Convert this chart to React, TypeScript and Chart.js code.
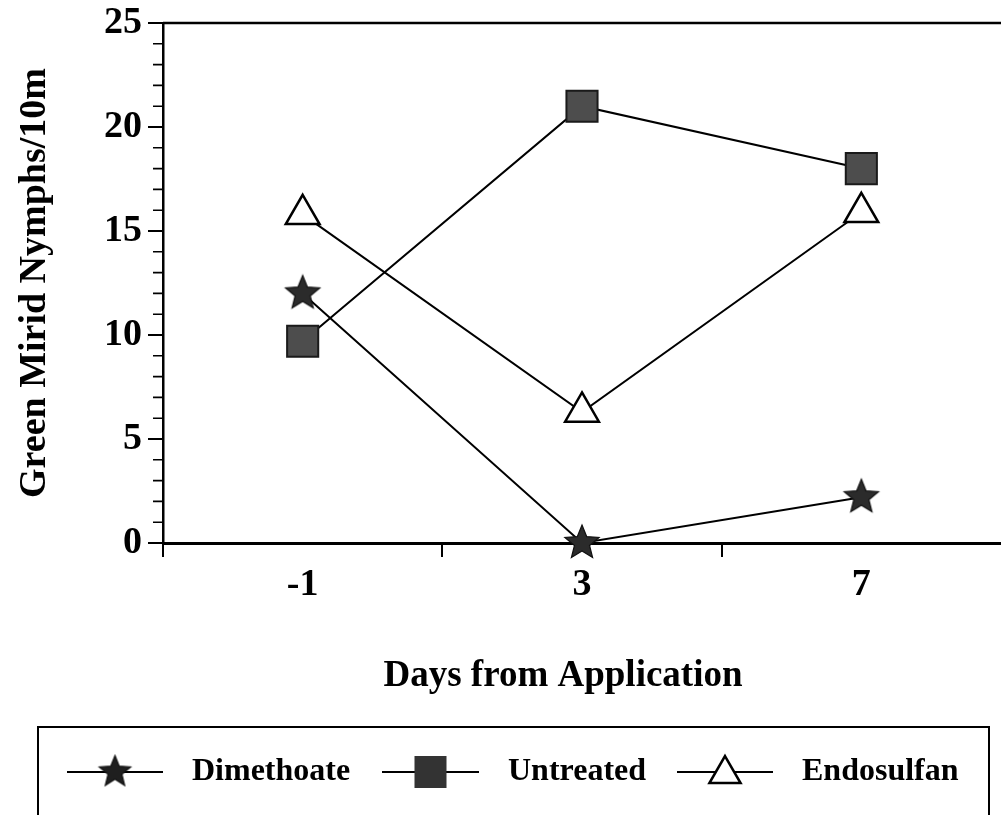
import React, { useEffect, useRef } from 'react';
import { Chart, registerables } from 'chart.js';

Chart.register(...registerables);

// ---- data ----
const days = ['-1', '3', '7'];
const dimethoate = [12, 0, 2.2];
const untreated = [9.7, 21, 18];
const endosulfan = [15.8, 6.3, 15.9];
const yTickValues = [0, 5, 10, 15, 20, 25];
const yMinorValues = [1, 2, 3, 4, 6, 7, 8, 9, 11, 12, 13, 14, 16, 17, 18, 19, 21, 22, 23, 24];
const seriesNames = ['Dimethoate', 'Untreated', 'Endosulfan'];
const xTitle = 'Days from Application';
const yTitle = 'Green Mirid Nymphs/10m';

const SERIF = '"Liberation Serif", "Times New Roman", serif';

function makeStar(R: number, fill: string): HTMLCanvasElement {
  const size = Math.ceil(R * 2 + 4);
  const c = document.createElement('canvas');
  c.width = size;
  c.height = size;
  const ctx = c.getContext('2d')!;
  const cx = size / 2;
  const cy = size / 2;
  const r = R * 0.44;
  ctx.beginPath();
  for (let i = 0; i < 10; i++) {
    const rad = i % 2 === 0 ? R : r;
    const a = -Math.PI / 2 + (i * Math.PI) / 5;
    const px = cx + rad * Math.cos(a);
    const py = cy + rad * Math.sin(a);
    if (i === 0) ctx.moveTo(px, py);
    else ctx.lineTo(px, py);
  }
  ctx.closePath();
  ctx.fillStyle = fill;
  ctx.fill();
  ctx.strokeStyle = '#111';
  ctx.lineWidth = 1.2;
  ctx.stroke();
  return c;
}

export default function App() {
  const ref = useRef<HTMLCanvasElement | null>(null);

  useEffect(() => {
    const canvas = ref.current;
    if (!canvas) return;
    const star = makeStar(18, '#2b2b2b');
    const legendStar = makeStar(16.5, '#1f1f1f');

    const framePlugin = {
      id: 'frameAndMinor',
      beforeDatasetsDraw(chart: any) {
        const { ctx, chartArea } = chart;
        const ys = chart.scales.y;
        ctx.save();
        ctx.strokeStyle = '#000';
        ctx.lineWidth = 2.5;
        ctx.beginPath();
        ctx.moveTo(chartArea.left, chartArea.top);
        ctx.lineTo(chartArea.right, chartArea.top);
        ctx.stroke();
        ctx.lineWidth = 1.6;
        ctx.beginPath();
        yMinorValues.forEach((v) => {
          const py = ys.getPixelForValue(v);
          ctx.moveTo(chartArea.left - 10, py);
          ctx.lineTo(chartArea.left, py);
        });
        ctx.stroke();
        ctx.restore();
      },
      afterDraw(chart: any) {
        const { ctx } = chart;
        ctx.save();
        // x-axis title
        ctx.fillStyle = '#000';
        ctx.font = `bold 37px ${SERIF}`;
        ctx.textAlign = 'center';
        ctx.textBaseline = 'middle';
        ctx.fillText(xTitle, 563, 676);

        // legend box (bottom edge runs off the page)
        ctx.strokeStyle = '#000';
        ctx.lineWidth = 2;
        ctx.beginPath();
        ctx.moveTo(38, 840);
        ctx.lineTo(38, 727);
        ctx.lineTo(989, 727);
        ctx.lineTo(989, 840);
        ctx.stroke();

        const items = [
          { x0: 67, x1: 163, tx: 192 },
          { x0: 382, x1: 479, tx: 508 },
          { x0: 677, x1: 773, tx: 802 },
        ];
        const ly = 772;
        ctx.font = `bold 32px ${SERIF}`;
        ctx.textAlign = 'left';
        ctx.textBaseline = 'alphabetic';
        items.forEach((it, i) => {
          ctx.strokeStyle = '#000';
          ctx.lineWidth = 2;
          ctx.beginPath();
          ctx.moveTo(it.x0, ly);
          ctx.lineTo(it.x1, ly);
          ctx.stroke();
          const cx = (it.x0 + it.x1) / 2;
          if (i === 0) {
            ctx.drawImage(legendStar, cx - legendStar.width / 2, ly - legendStar.height / 2);
          } else if (i === 1) {
            ctx.fillStyle = '#333';
            ctx.fillRect(cx - 16, ly - 16, 32, 32);
          } else {
            const r = 18;
            ctx.beginPath();
            for (let k = 0; k < 3; k++) {
              const a = (k * 2 * Math.PI) / 3;
              const px = cx + Math.sin(a) * r;
              const py = ly + 2 - Math.cos(a) * r;
              if (k === 0) ctx.moveTo(px, py);
              else ctx.lineTo(px, py);
            }
            ctx.closePath();
            ctx.fillStyle = '#fff';
            ctx.fill();
            ctx.lineWidth = 2.5;
            ctx.stroke();
          }
          ctx.fillStyle = '#000';
          ctx.fillText(seriesNames[i], it.tx, 780);
        });
        ctx.restore();
      },
    };

    const chart = new Chart(canvas, {
      type: 'line',
      data: {
        labels: days,
        datasets: [
          {
            label: seriesNames[0],
            data: dimethoate,
            borderColor: '#000',
            borderWidth: 2,
            pointStyle: star as any,
            pointRadius: 18,
            clip: false as any,
          },
          {
            label: seriesNames[1],
            data: untreated,
            borderColor: '#000',
            borderWidth: 2,
            pointStyle: 'rect',
            pointRadius: 22,
            pointBackgroundColor: '#4d4d4d',
            pointBorderColor: '#1a1a1a',
            pointBorderWidth: 2,
            clip: false as any,
          },
          {
            label: seriesNames[2],
            data: endosulfan,
            borderColor: '#000',
            borderWidth: 2,
            pointStyle: 'triangle',
            pointRadius: 19.5,
            pointBackgroundColor: '#fff',
            pointBorderColor: '#000',
            pointBorderWidth: 2.5,
            clip: false as any,
          },
        ],
      },
      options: {
        responsive: false,
        animation: false,
        devicePixelRatio: 1,
        layout: { autoPadding: false, padding: { top: 23, left: 0, right: 0, bottom: 0 } },
        plugins: {
          legend: { display: false },
          tooltip: { enabled: false },
        },
        scales: {
          x: {
            type: 'category',
            offset: true,
            ticks: {
              color: '#000',
              font: { family: SERIF, size: 38, weight: 'bold' },
              padding: 5,
              maxRotation: 0,
            },
            grid: {
              display: true,
              offset: true,
              drawOnChartArea: false,
              drawTicks: true,
              tickLength: 14,
              color: (c: any) => (c.tick && c.index < days.length ? '#000' : 'rgba(0,0,0,0)'),
              lineWidth: 2,
            },
            border: { display: true, color: '#000', width: 3 },
            afterFit: (s: any) => {
              s.height = 272;
              s.paddingLeft = 0;
              s.paddingRight = 0;
            },
          },
          y: {
            min: 0,
            max: 25,
            afterBuildTicks: (s: any) => {
              s.ticks = yTickValues.map((v) => ({ value: v }));
            },
            ticks: {
              color: '#000',
              font: { family: SERIF, size: 38, weight: 'bold' },
              padding: 6,
            },
            grid: {
              display: true,
              drawOnChartArea: false,
              drawTicks: true,
              tickLength: 15,
              color: '#000',
              lineWidth: 2,
            },
            border: { display: true, color: '#000', width: 2.5 },
            title: {
              display: true,
              text: yTitle,
              color: '#000',
              font: { family: SERIF, size: 38, weight: 'bold' },
              padding: { top: 12, bottom: 0 },
            },
            afterFit: (s: any) => {
              s.width = 163;
              s.paddingTop = 0;
              s.paddingBottom = 0;
            },
          },
        },
      },
      plugins: [framePlugin],
    });

    return () => chart.destroy();
  }, []);

  return (
    <div style={{ position: 'absolute', left: 0, top: 0, width: 1001, height: 815, background: '#fff' }}>
      <canvas ref={ref} width={1001} height={815} style={{ width: 1001, height: 815, display: 'block' }} />
    </div>
  );
}
